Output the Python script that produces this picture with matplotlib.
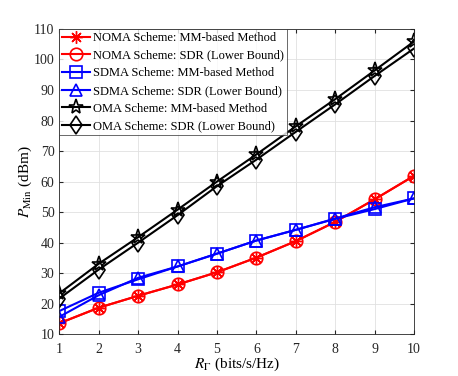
import matplotlib
matplotlib.use("Agg")
import matplotlib.pyplot as plt

plt.rcParams['font.family'] = ['Liberation Serif', 'DejaVu Serif']
plt.rcParams['mathtext.fontset'] = 'stix'

x = [1, 2, 3, 4, 5, 6, 7, 8, 9, 10]
noma_mm = [13.6, 18.7, 22.6, 26.3, 30.3, 35.1, 40.5, 46.8, 54.2, 61.9]
noma_sdr = [13.6, 18.7, 22.6, 26.3, 30.3, 35.1, 40.5, 46.8, 54.2, 61.9]
sdma_mm = [17.6, 23.6, 28.0, 32.2, 36.4, 40.7, 44.2, 47.8, 51.0, 54.5]
sdma_sdr = [15.7, 22.8, 28.5, 32.2, 36.4, 40.7, 44.2, 47.9, 51.6, 54.5]
oma_mm = [23.4, 33.1, 41.8, 50.8, 60.0, 68.9, 78.1, 87.0, 96.4, 105.9]
oma_sdr = [21.7, 31.2, 40.0, 49.0, 58.5, 67.2, 76.3, 85.3, 94.6, 103.6]

labels = ['NOMA Scheme: MM-based Method', 'NOMA Scheme: SDR (Lower Bound)',
          'SDMA Scheme: MM-based Method', 'SDMA Scheme: SDR (Lower Bound)',
          'OMA Scheme: MM-based Method', 'OMA Scheme: SDR (Lower Bound)']

fig = plt.figure(figsize=(4.58, 3.76), dpi=100)
ax = fig.add_axes([0.1295, 0.111, 0.904 - 0.1295, 0.923 - 0.111])

lw = 1.5
ax.plot(x, noma_mm, color='red', lw=lw, marker=(8, 2, 0), ms=9, mew=1.0, label=labels[0])
ax.plot(x, noma_sdr, color='red', lw=lw, marker='o', ms=9, mfc='none', mew=1.2, label=labels[1])
ax.plot(x, sdma_mm, color='blue', lw=lw, marker='s', ms=8.5, mfc='none', mew=1.2, label=labels[2])
ax.plot(x, sdma_sdr, color='blue', lw=lw, marker='^', ms=9, mfc='none', mew=1.2, label=labels[3])
ax.plot(x, oma_mm, color='black', lw=lw, marker='*', ms=11, mfc='none', mew=1.2, label=labels[4])
ax.plot(x, oma_sdr, color='black', lw=lw, marker='d', ms=9.5, mfc='none', mew=1.2, label=labels[5])

ax.set_xlim(1, 10)
ax.set_ylim(10, 110)
ax.set_xticks(range(1, 11))
ax.set_yticks(range(10, 111, 10))
ax.grid(True, color='#e0e0e0', lw=0.6)
ax.set_axisbelow(True)
ax.tick_params(direction='in', top=True, right=True, labelsize=10, colors='#262626', length=3)
ax.tick_params(axis='x', pad=6)
for s in ax.spines.values():
    s.set_color('#262626')
    s.set_linewidth(0.6)

ax.set_xlabel(r'$R_{\Gamma}$ (bits/s/Hz)', fontsize=11, labelpad=0)
ax.set_ylabel(r'$P_{\mathrm{Min}}$ (dBm)', fontsize=11, labelpad=0)

leg = ax.legend(loc='upper left', fontsize=9.0, frameon=True, fancybox=False,
                edgecolor='#262626', borderaxespad=0, handlelength=2.2,
                handletextpad=0.25, labelspacing=0.45, borderpad=0.25)
leg.get_frame().set_linewidth(0.6)

fig.savefig('out.png', dpi=100)
